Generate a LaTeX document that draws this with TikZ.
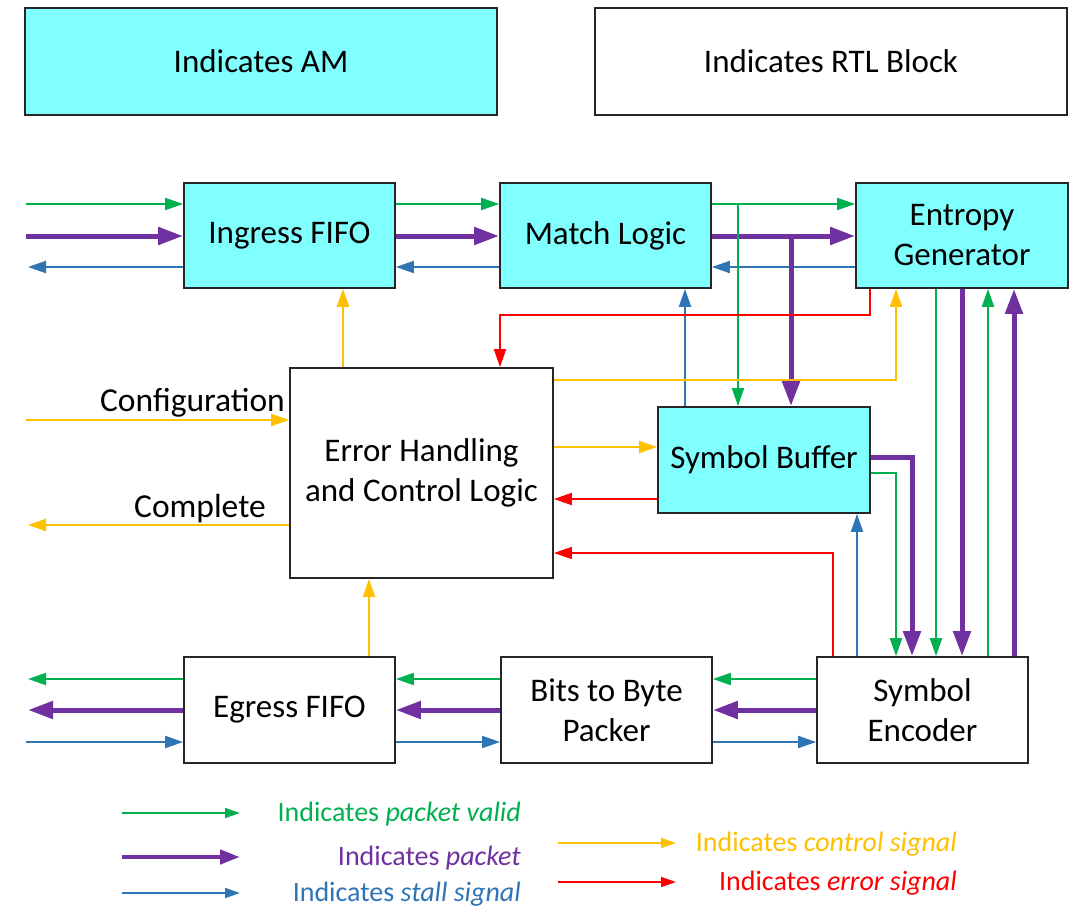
\documentclass[tikz,border=0pt]{standalone}
\usepackage{fontspec}
\setmainfont{Carlito}
\usetikzlibrary{arrows.meta}
\definecolor{cgreen}{HTML}{00B050}
\definecolor{cpurple}{HTML}{7030A0}
\definecolor{cblue}{HTML}{2E75B6}
\definecolor{cyellow}{HTML}{FFC000}
\definecolor{cred}{HTML}{FF0000}
\definecolor{amfill}{HTML}{80FFFF}
\tikzset{
  tipS/.style={-{Triangle[length=18pt,width=12pt]}},
  tipL/.style={-{Triangle[length=25pt,width=17pt]}},
  tipLegS/.style={-{Triangle[length=15pt,width=10pt]}},
  tipLegL/.style={-{Triangle[length=20pt,width=14pt]}},
  pv/.style={draw=cgreen, line width=2pt, tipS},
  pkt/.style={draw=cpurple, line width=5pt, tipL},
  stl/.style={draw=cblue, line width=2pt, tipS},
  ctl/.style={draw=cyellow, line width=2pt, tipS},
  errs/.style={draw=cred, line width=2pt, tipS},
  blk/.style={draw=black!85, line width=1.8pt, fill=white, align=center,
    inner sep=0pt, font=\fontsize{33}{40}\selectfont},
  am/.style={blk, fill=amfill},
  sidetxt/.style={inner sep=0pt, font=\fontsize{33.5}{40}\selectfont},
  legtxt/.style={inner sep=0pt, font=\fontsize{28}{34}\selectfont},
}
\begin{document}
\begin{tikzpicture}[x=1pt, y=-1pt]
  \fill[white] (0,0) rectangle (1074,908);
  \useasboundingbox (0,0) rectangle (1074,908);

  % key boxes
  \node[am, minimum width=472pt, minimum height=107pt] (legam) at (261,61.5) {Indicates AM};
  \node[blk, minimum width=472pt, minimum height=107pt] (legrtl) at (831,61.5) {Indicates RTL Block};

  % blocks
  \node[am, minimum width=211pt, minimum height=105pt] (ing) at (289.5,235.5) {Ingress FIFO};
  \node[am, minimum width=211pt, minimum height=105pt] (match) at (605.5,235.5) {Match Logic};
  \node[am, minimum width=212pt, minimum height=105pt] (ent) at (962,235.5) {Entropy\\Generator};
  \node[blk, minimum width=263pt, minimum height=210pt] (err) at (421.5,473) {Error Handling\\and Control Logic};
  \node[am, minimum width=212pt, minimum height=106pt] (sbuf) at (764,460) {Symbol Buffer};
  \node[blk, minimum width=211pt, minimum height=106pt] (egr) at (289.5,710) {Egress FIFO};
  \node[blk, minimum width=211pt, minimum height=106pt] (pack) at (606.5,710) {Bits to Byte\\Packer};
  \node[blk, minimum width=211pt, minimum height=106pt] (enc) at (922.5,710) {Symbol\\Encoder};

  % free ends and routing columns/rows
  \coordinate (inG) at (26,204);
  \coordinate (inP) at (26,236);
  \coordinate (inB) at (28,267);
  \coordinate (outG) at (28,679);
  \coordinate (outP) at (28,710);
  \coordinate (outB) at (26,742);
  \coordinate (cfg) at (26,420);
  \coordinate (cpl) at (28,525);

  % top row: ingress -> match -> entropy
  \draw[pv] (inG) -- (inG -| ing.west);
  \draw[pkt] (inP) -- (inP -| ing.west);
  \draw[stl] (inB -| ing.west) -- (inB);
  \draw[pv] (inG -| ing.east) -- (inG -| match.west);
  \draw[pkt] (inP -| ing.east) -- (inP -| match.west);
  \draw[stl] (inB -| match.west) -- (inB -| ing.east);
  \draw[pv] (inG -| match.east) -- (inG -| ent.west);
  \draw[pkt] (inP -| match.east) -- (inP -| ent.west);
  \draw[stl] (inB -| ent.west) -- (inB -| match.east);

  % branches into the symbol buffer
  \coordinate (xg) at (738,0);
  \coordinate (xp) at (791,0);
  \coordinate (xb) at (685,0);
  \draw[pv] (xg |- inG) -- (xg |- sbuf.north);
  \draw[pkt] (xp |- inP) -- (xp |- sbuf.north);
  \draw[stl] (xb |- sbuf.north) -- (xb |- match.south);

  % control and error paths around the control logic
  \coordinate (xy1) at (343,0);
  \draw[ctl] (xy1 |- err.north) -- (xy1 |- ing.south);
  \coordinate (xr1) at (870,0);
  \coordinate (yr1) at (0,315);
  \coordinate (xr2) at (500,0);
  \draw[errs] (xr1 |- ent.south) -- (xr1 |- yr1) -- (xr2 |- yr1) -- (xr2 |- err.north);
  \coordinate (yy1) at (0,380);
  \coordinate (xy2) at (896,0);
  \draw[ctl] (yy1 -| err.east) -- (xy2 |- yy1) -- (xy2 |- ent.south);
  \coordinate (yy2) at (0,447);
  \draw[ctl] (yy2 -| err.east) -- (yy2 -| sbuf.west);
  \coordinate (yr2) at (0,499);
  \draw[errs] (yr2 -| sbuf.west) -- (yr2 -| err.east);
  \coordinate (xr3) at (833,0);
  \coordinate (yr3) at (0,553);
  \draw[errs] (xr3 |- enc.north) -- (xr3 |- yr3) -- (yr3 -| err.east);
  \coordinate (xb2) at (857,0);
  \draw[stl] (xb2 |- enc.north) -- (xb2 |- sbuf.south);

  % symbol buffer -> encoder
  \coordinate (yp3) at (0,457);
  \coordinate (xp3) at (912,0);
  \draw[pkt] (yp3 -| sbuf.east) -- (xp3 |- yp3) -- (xp3 |- enc.north);
  \coordinate (yg3) at (0,473);
  \coordinate (xg3) at (896,0);
  \draw[pv] (yg3 -| sbuf.east) -- (xg3 |- yg3) -- (xg3 |- enc.north);

  % entropy generator <-> encoder
  \coordinate (xg4) at (936,0);
  \coordinate (xp4) at (962,0);
  \coordinate (xg5) at (988,0);
  \coordinate (xp5) at (1014,0);
  \draw[pv] (xg4 |- ent.south) -- (xg4 |- enc.north);
  \draw[pkt] (xp4 |- ent.south) -- (xp4 |- enc.north);
  \draw[pv] (xg5 |- enc.north) -- (xg5 |- ent.south);
  \draw[pkt] (xp5 |- enc.north) -- (xp5 |- ent.south);

  % configuration / complete
  \draw[ctl] (cfg) -- (cfg -| err.west);
  \node[sidetxt, anchor=east] (cfgtxt) at (285,403) {Configuration};
  \draw[ctl] (cpl -| err.west) -- (cpl);
  \node[sidetxt, anchor=east] (cpltxt) at (266,509) {Complete};
  \coordinate (xy3) at (369,0);
  \draw[ctl] (xy3 |- egr.north) -- (xy3 |- err.south);

  % bottom row: encoder -> packer -> egress
  \draw[pv] (outG -| egr.west) -- (outG);
  \draw[pkt] (outP -| egr.west) -- (outP);
  \draw[stl] (outB) -- (outB -| egr.west);
  \draw[pv] (outG -| pack.west) -- (outG -| egr.east);
  \draw[pkt] (outP -| pack.west) -- (outP -| egr.east);
  \draw[stl] (outB -| egr.east) -- (outB -| pack.west);
  \draw[pv] (outG -| enc.west) -- (outG -| pack.east);
  \draw[pkt] (outP -| enc.west) -- (outP -| pack.east);
  \draw[stl] (outB -| pack.east) -- (outB -| enc.west);

  % legend
  \coordinate (lg1) at (122,813); \coordinate (lg2) at (240,813);
  \coordinate (lp1) at (122,857); \coordinate (lp2) at (240,857);
  \coordinate (lb1) at (122,893); \coordinate (lb2) at (240,893);
  \coordinate (ly1) at (558,843); \coordinate (ly2) at (676,843);
  \coordinate (lr1) at (558,882); \coordinate (lr2) at (676,882);
  \draw[pv, line width=1.6pt, tipLegS] (lg1) -- (lg2);
  \draw[pkt, line width=4.5pt, tipLegL] (lp1) -- (lp2);
  \draw[stl, line width=1.6pt, tipLegS] (lb1) -- (lb2);
  \draw[ctl, line width=1.6pt, tipLegS] (ly1) -- (ly2);
  \draw[errs, line width=1.6pt, tipLegS] (lr1) -- (lr2);
  \node[legtxt, text=cgreen, anchor=east] (tg) at (521,814) {Indicates \textit{packet valid}};
  \node[legtxt, text=cpurple, anchor=east] (tp) at (521,858) {Indicates \textit{packet}};
  \node[legtxt, text=cblue, anchor=east] (tb) at (521,894) {Indicates \textit{stall signal}};
  \node[legtxt, text=cyellow, anchor=east] (ty) at (957,844) {Indicates \textit{control signal}};
  \node[legtxt, text=cred, anchor=east] (tr) at (957,883) {Indicates \textit{error signal}};
\end{tikzpicture}
\end{document}
